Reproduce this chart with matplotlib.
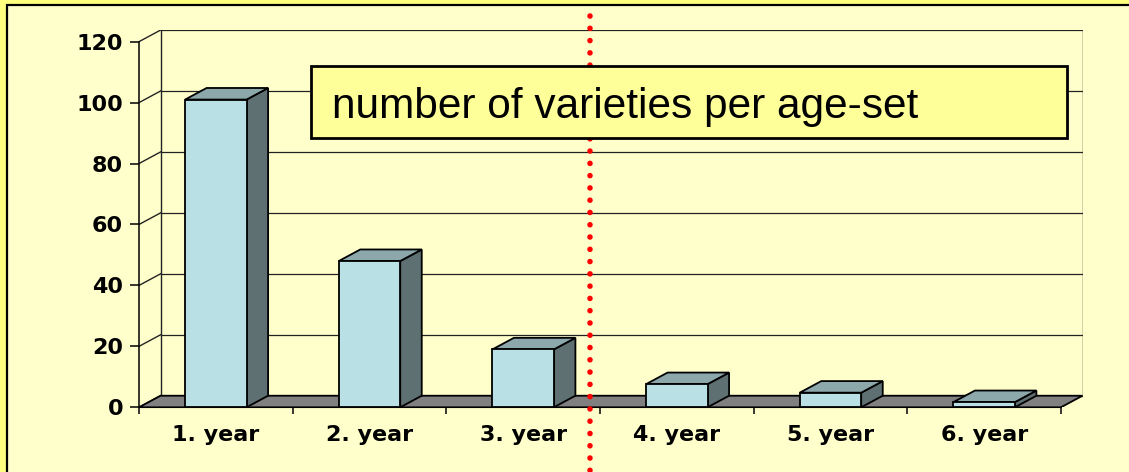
import matplotlib.pyplot as plt
from matplotlib.patches import Polygon, Rectangle
from matplotlib.lines import Line2D

# data
categories = ['1. year', '2. year', '3. year', '4. year', '5. year', '6. year']
values = [101, 48, 19, 7.6, 4.8, 1.7]
yticks = [0, 20, 40, 60, 80, 100, 120]
title = 'number of varieties per age-set'

W, H = 1129, 472
dx, dy = 0.14, 3.8      # 3d depth offset in data units
bw = 0.4                # bar width (category units)

fig = plt.figure(figsize=(W / 100, H / 100), dpi=100)
fig.patch.set_facecolor('#FFFF80')
fig.add_artist(Rectangle((7 / W, -0.1), 1.2, 1.1 - 4.5 / H, transform=fig.transFigure,
                         fc='#FFFFCC', ec='black', lw=1.6, zorder=-1))

ax = fig.add_axes([139 / W, (H - 407.3) / H, 943.5 / W, 377.2 / H])
ax.patch.set_alpha(0)
n = len(categories)
ax.set_xlim(0, n + dx)
ax.set_ylim(0, yticks[-1] + dy)
for s in ['top', 'right']:
    ax.spines[s].set_visible(False)
ax.spines['left'].set_bounds(0, yticks[-1])
ax.spines['bottom'].set_bounds(0, n)
ax.spines['left'].set_linewidth(1.1)

# back wall + gridlines
lc = '#222222'
ax.plot([dx, dx], [dy, yticks[-1] + dy], color=lc, lw=1)
ax.plot([n + dx, n + dx], [dy, yticks[-1] + dy], color=lc, lw=1)
for t in yticks:
    ax.plot([dx, n + dx], [t + dy, t + dy], color=lc, lw=0.9)
    ax.plot([0, dx], [t, t + dy], color=lc, lw=1)

# floor
ax.add_patch(Polygon([(0, 0), (n, 0), (n + dx, dy), (dx, dy)], closed=True,
                     fc='#808080', ec='black', lw=1.3, zorder=3))

# bars
for i, v in enumerate(values):
    x0 = i + 0.5 - bw / 2
    x1 = i + 0.5 + bw / 2
    ax.add_patch(Polygon([(x1, 0), (x1 + dx, dy), (x1 + dx, v + dy), (x1, v)],
                         fc='#5E7072', ec='black', lw=1.3, zorder=4))
    ax.add_patch(Polygon([(x0, v), (x1, v), (x1 + dx, v + dy), (x0 + dx, v + dy)],
                         fc='#8CA8AB', ec='black', lw=1.3, zorder=4))
    ax.add_patch(Rectangle((x0, 0), bw, v, fc='#B9E0E4', ec='black', lw=1.3, zorder=5))

ax.set_yticks(yticks)
ax.set_yticklabels([str(t) for t in yticks])
ax.set_xticks(range(n + 1))
ax.set_xticklabels([])
ax.set_xticks([i + 0.5 for i in range(n)], minor=True)
ax.set_xticklabels(categories, minor=True)
ax.tick_params(axis='y', length=6.5, width=1.1, pad=5, labelsize=16)
ax.tick_params(axis='x', which='major', length=5, width=1.1)
ax.tick_params(axis='x', which='minor', length=0, pad=13, labelsize=16)
for lab in ax.get_yticklabels() + ax.get_xticklabels(minor=True):
    lab.set_fontweight('bold')
    lab.set_family('DejaVu Sans')

# red dotted divider
fig.add_artist(Line2D([590 / W, 590 / W], [1 - 16 / H, -0.02], transform=fig.transFigure,
                      color='#FF0000', lw=4, linestyle=(0, (0.01, 2.2)),
                      dash_capstyle='round', zorder=2))

# title box
fig.add_artist(Rectangle((311 / W, (H - 138) / H), 756 / W, 72 / H, transform=fig.transFigure,
                         fc='#FFFF99', ec='black', lw=2, zorder=3))
fig.text(332 / W, (H - 118) / H, title, fontsize=30.5, family='Liberation Sans',
         va='baseline', ha='left', zorder=4)

fig.savefig('out.png', dpi=100, facecolor=fig.get_facecolor())
